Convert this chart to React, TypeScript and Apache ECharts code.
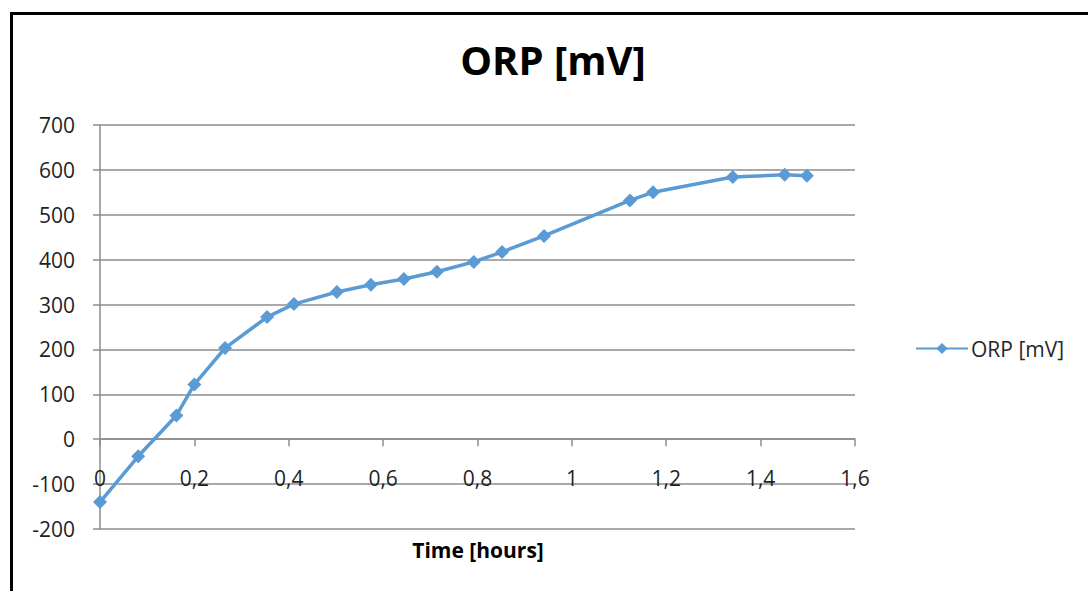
import React, { useEffect, useRef } from "react";
import * as echarts from "echarts";

const timeHours = [0, 0.081, 0.162, 0.2, 0.265, 0.354, 0.411, 0.502, 0.574, 0.644, 0.714, 0.792, 0.852, 0.941, 1.123, 1.172, 1.341, 1.451, 1.498];
const orpValues = [-140, -38, 53, 122, 203, 272, 301, 328, 344, 357, 373, 395, 417, 453, 532, 550, 584, 589, 587];
const seriesName = "ORP [mV]";
const titleText = "ORP [mV]";
const xAxisTitle = "Time [hours]";

const FONT = "'Open Sans', sans-serif";

export default function App() {
  const ref = useRef<HTMLDivElement>(null);
  useEffect(() => {
    if (!ref.current) return;
    const chart = echarts.init(ref.current, undefined, { renderer: "svg" });
    const data = timeHours.map((t, i) => [t, orpValues[i]]);
    chart.setOption({
      animation: false,
      backgroundColor: "#ffffff",
      textStyle: { fontFamily: FONT },
      title: {
        text: titleText,
        left: 548,
        textAlign: "center",
        top: 34,
        textStyle: { fontSize: 40, fontWeight: "bold", color: "#000", fontFamily: FONT },
      },
      legend: {
        data: [seriesName],
        left: 910,
        top: 333,
        itemWidth: 52,
        itemHeight: 14,
        itemGap: 4,
        textStyle: { fontSize: 21, color: "#262626", fontFamily: FONT, padding: [0, 0, 0, -2] },
      },
      graphic: [
        {
          type: "rect",
          shape: { x: 11.5, y: 13.5, width: 1200, height: 800 },
          style: { fill: "none", stroke: "#000", lineWidth: 3 },
          silent: true,
        },
        {
          type: "text",
          x: 478,
          y: 550,
          style: {
            text: xAxisTitle,
            fill: "#000",
            font: "bold 21px " + FONT,
            textAlign: "center",
            textVerticalAlign: "middle",
          },
        },
      ],
      grid: { left: 100, right: 233, top: 125, bottom: 62, containLabel: false },
      xAxis: {
        type: "value",
        min: 0,
        max: 1.6,
        interval: 0.2,
        axisLine: { show: true, onZero: true, lineStyle: { color: "#8c8c8c", width: 1.5 } },
        axisTick: { show: true, inside: false, length: 7, lineStyle: { color: "#8c8c8c", width: 1.5 } },
        splitLine: { show: false },
        axisLabel: {
          fontSize: 21,
          color: "#1f1f1f",
          margin: -62,
          fontFamily: FONT,
          formatter: (v: number) => String(Math.round(v * 10) / 10).replace(".", ","),
        },
      },
      yAxis: {
        type: "value",
        min: -200,
        max: 700,
        interval: 100,
        axisLine: { show: true, onZero: false, lineStyle: { color: "#8c8c8c", width: 1.5 } },
        axisTick: { show: true, inside: false, length: 7, lineStyle: { color: "#8c8c8c", width: 1.5 } },
        splitLine: { show: true, lineStyle: { color: "#8c8c8c", width: 1.5 } },
        axisLabel: { fontSize: 21, color: "#1f1f1f", margin: 25, fontFamily: FONT },
      },
      series: [
        {
          name: seriesName,
          type: "line",
          data,
          symbol: "diamond",
          symbolSize: 14,
          showAllSymbol: true,
          itemStyle: { color: "#5b9bd5" },
          lineStyle: { color: "#5b9bd5", width: 3.5 },
        },
      ],
    });
    return () => chart.dispose();
  }, []);
  return <div ref={ref} style={{ position: "fixed", left: 0, top: 0, width: 1088, height: 591 }} />;
}
